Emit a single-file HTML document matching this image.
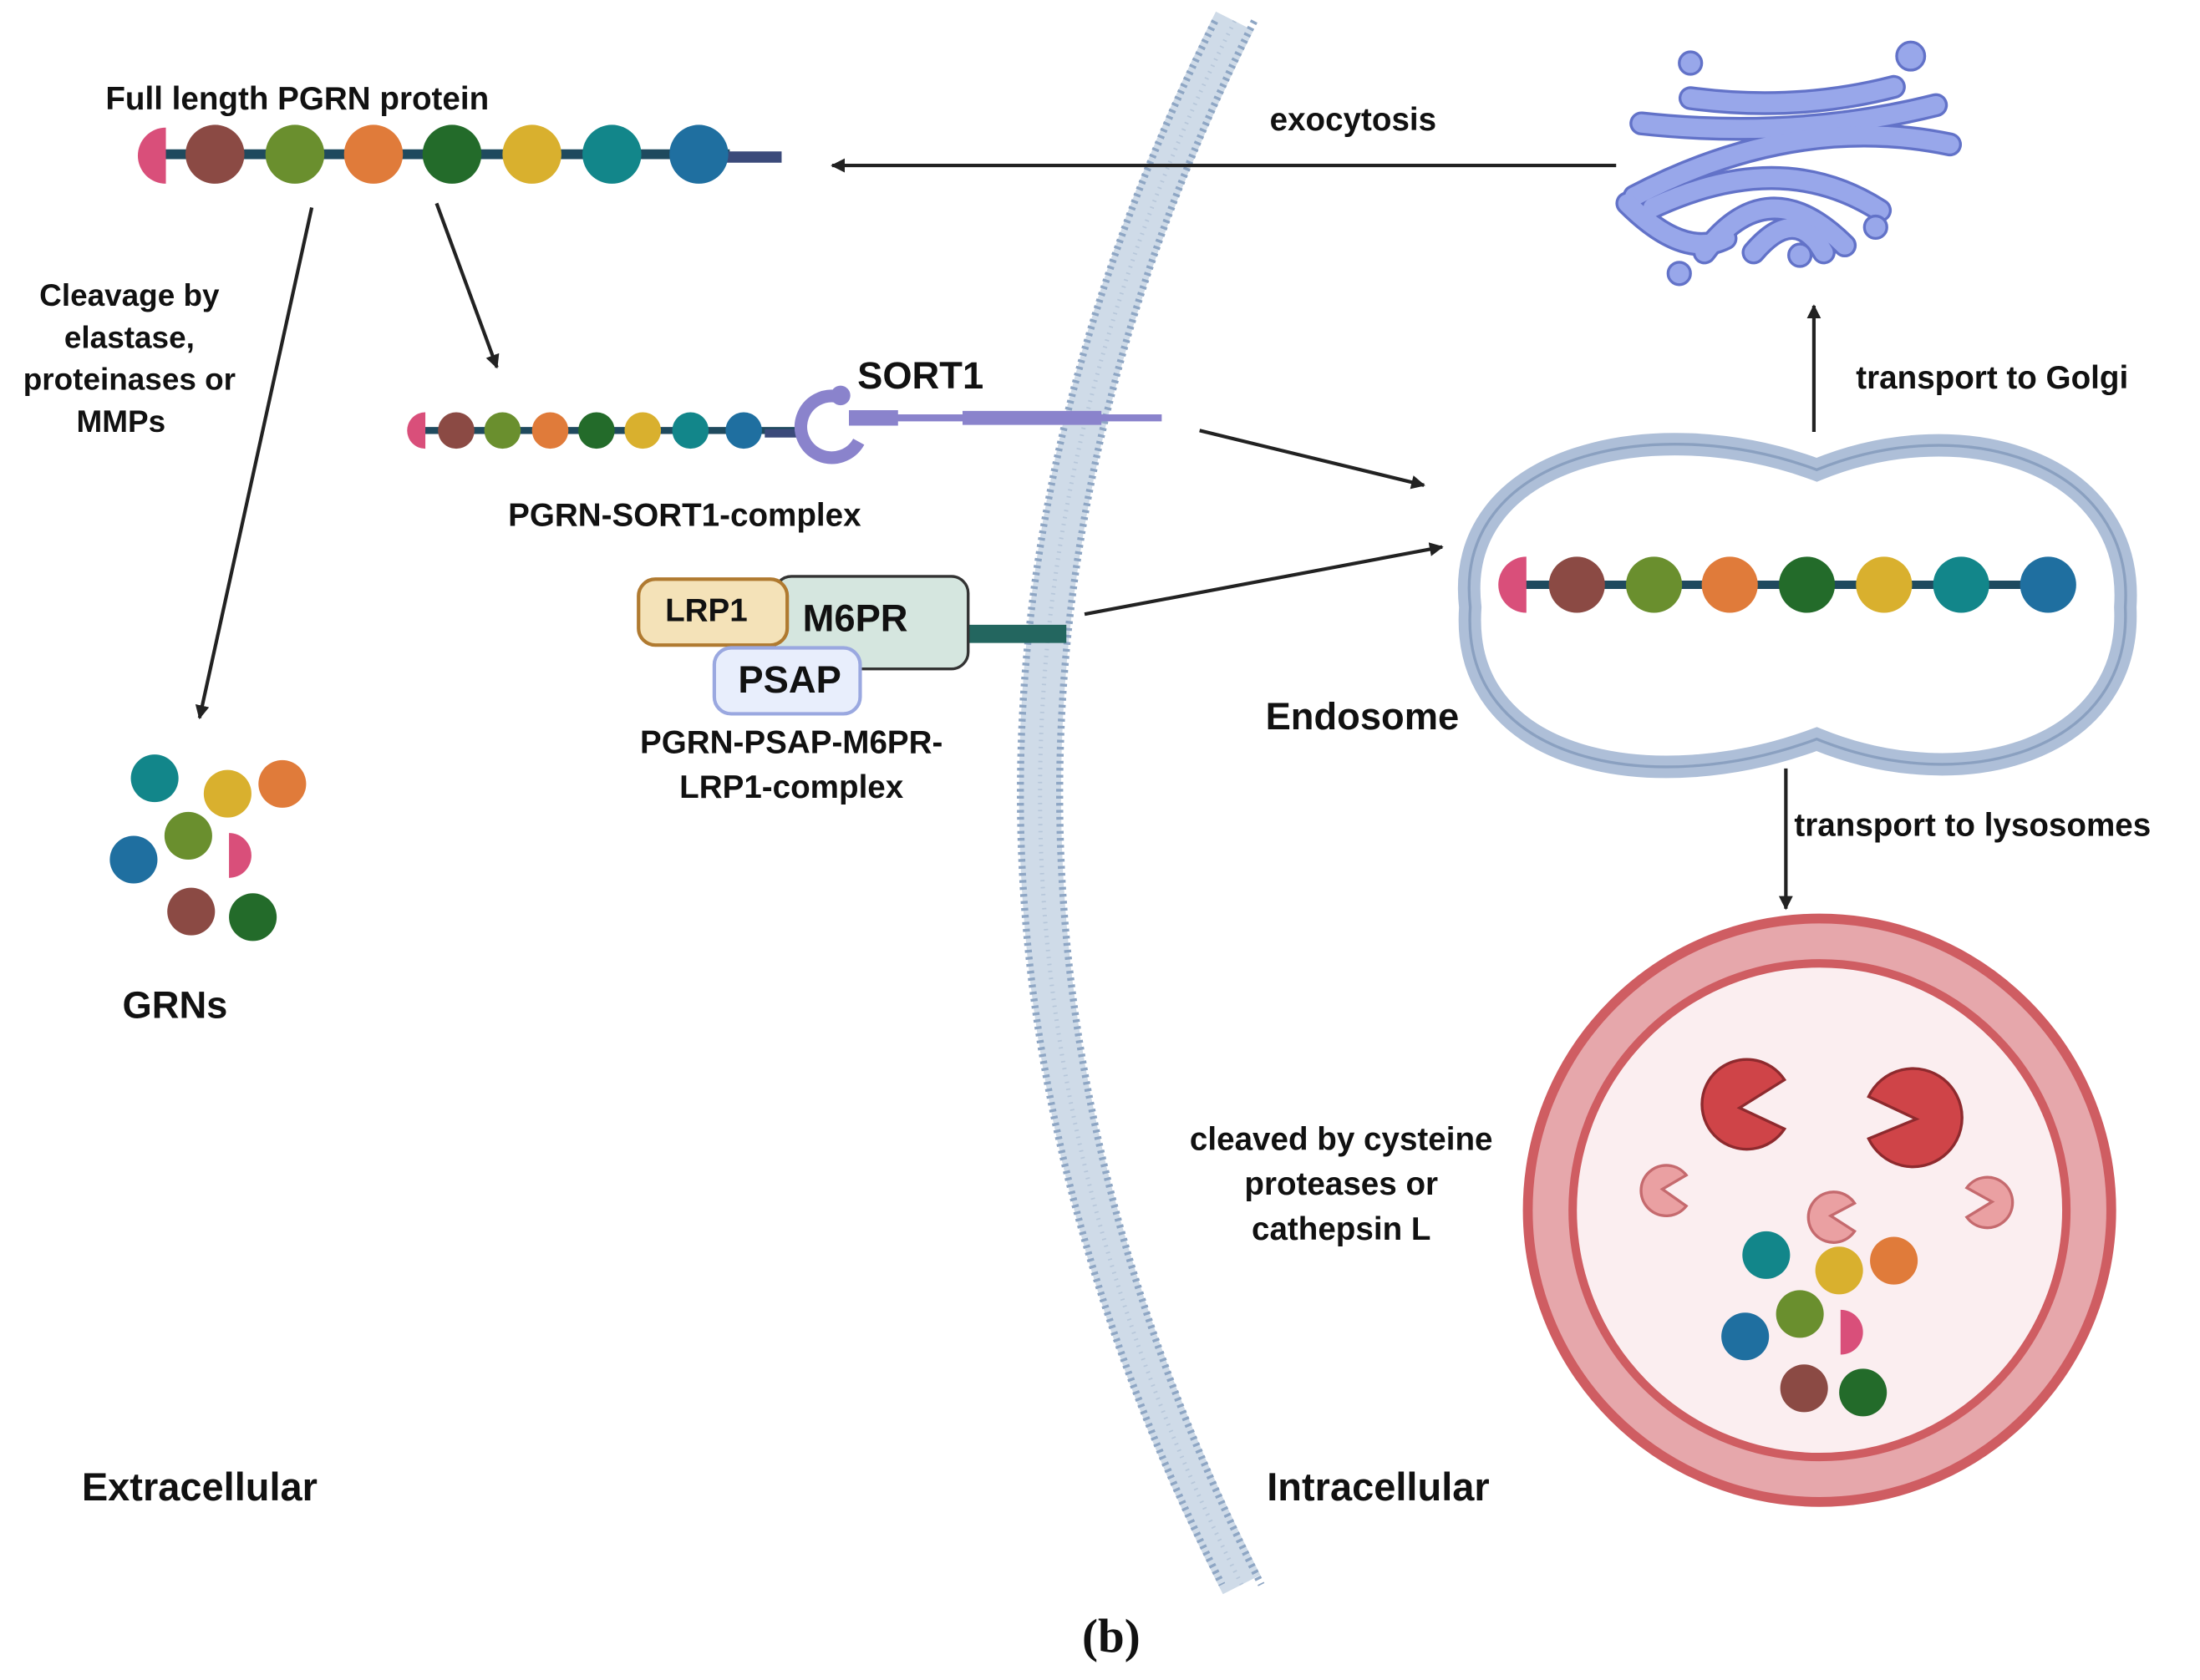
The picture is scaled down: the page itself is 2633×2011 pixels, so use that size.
<!DOCTYPE html>
<html><head><meta charset="utf-8"><style>
html,body{margin:0;padding:0;background:#fff}
svg{display:block}
text{font-family:"Liberation Sans",sans-serif;font-weight:bold;fill:#111}
</style></head><body>
<svg width="2633" height="2011" viewBox="0 0 1568 1198" xmlns="http://www.w3.org/2000/svg">
<defs>
<marker id="ah" markerWidth="10" markerHeight="10" refX="9" refY="5" orient="auto" markerUnits="userSpaceOnUse">
<path d="M0,0 L10,5 L0,10 Z" fill="#222"/></marker>
</defs>
<rect width="1568" height="1198" fill="#fff"/>

<path d="M880 15 Q600 570 885 1130" fill="none" stroke="#cfdbe8" stroke-width="30"/>
<path d="M866 15 Q586 570 871 1130" fill="none" stroke="#8ea6c4" stroke-width="5" stroke-dasharray="2 3"/>
<path d="M894 15 Q614 570 899 1130" fill="none" stroke="#8ea6c4" stroke-width="5" stroke-dasharray="2 3"/>
<path d="M880 15 Q600 570 885 1130" fill="none" stroke="#b7c7da" stroke-width="3" stroke-dasharray="1 4"/>

<line x1="112" y1="110" x2="520" y2="110" stroke="#1f4a5e" stroke-width="7"/>
<line x1="515" y1="112" x2="557" y2="112" stroke="#3b4a7a" stroke-width="8"/>
<path d="M118 91 A20 20 0 0 0 118 131 Z" fill="#d94f7a"/>
<circle cx="153" cy="110" r="21" fill="#8b4a44"/>
<circle cx="210" cy="110" r="21" fill="#6a8f2e"/>
<circle cx="266" cy="110" r="21" fill="#e07b3a"/>
<circle cx="322" cy="110" r="21" fill="#236b2a"/>
<circle cx="379" cy="110" r="21" fill="#d9b02e"/>
<circle cx="436" cy="110" r="21" fill="#12868a"/>
<circle cx="498" cy="110" r="21" fill="#1f6fa0"/>
<text x="75" y="78" font-size="23">Full length PGRN protein</text>

<line x1="222" y1="148" x2="142" y2="512" stroke="#222" stroke-width="2.5" marker-end="url(#ah)"/>
<line x1="311" y1="145" x2="354" y2="262" stroke="#222" stroke-width="2.5" marker-end="url(#ah)"/>
<line x1="1152" y1="118" x2="593" y2="118" stroke="#222" stroke-width="2.5" marker-end="url(#ah)"/>
<line x1="855" y1="307" x2="1015" y2="346" stroke="#222" stroke-width="2.5" marker-end="url(#ah)"/>
<line x1="773" y1="438" x2="1028" y2="390" stroke="#222" stroke-width="2.5" marker-end="url(#ah)"/>
<line x1="1293" y1="308" x2="1293" y2="218" stroke="#222" stroke-width="2.5" marker-end="url(#ah)"/>
<line x1="1273" y1="548" x2="1273" y2="648" stroke="#222" stroke-width="2.5" marker-end="url(#ah)"/>

<text x="905" y="93" font-size="23">exocytosis</text>
<text font-size="22" text-anchor="middle"><tspan x="92" y="218">Cleavage by</tspan><tspan x="92" y="248">elastase,</tspan><tspan x="92" y="278">proteinases or</tspan><tspan x="86" y="308">MMPs</tspan></text>

<circle cx="110" cy="555" r="17" fill="#12868a"/>
<circle cx="162" cy="566" r="17" fill="#d9b02e"/>
<circle cx="201" cy="559" r="17" fill="#e07b3a"/>
<circle cx="134" cy="596" r="17" fill="#6a8f2e"/>
<path d="M163 594 A16 16 0 0 1 163 626 Z" fill="#d94f7a"/>
<circle cx="95" cy="613" r="17" fill="#1f6fa0"/>
<circle cx="136" cy="650" r="17" fill="#8b4a44"/>
<circle cx="180" cy="654" r="17" fill="#236b2a"/>
<text x="87" y="726" font-size="27">GRNs</text>

<line x1="300" y1="307" x2="570" y2="307" stroke="#1f4a5e" stroke-width="5"/>
<line x1="545" y1="309" x2="575" y2="309" stroke="#3b4a7a" stroke-width="6"/>
<path d="M303 294 A13 13 0 0 0 303 320 Z" fill="#d94f7a"/>
<circle cx="325" cy="307" r="13" fill="#8b4a44"/>
<circle cx="358" cy="307" r="13" fill="#6a8f2e"/>
<circle cx="392" cy="307" r="13" fill="#e07b3a"/>
<circle cx="425" cy="307" r="13" fill="#236b2a"/>
<circle cx="458" cy="307" r="13" fill="#d9b02e"/>
<circle cx="492" cy="307" r="13" fill="#12868a"/>
<circle cx="530" cy="307" r="13" fill="#1f6fa0"/>
<path d="M598 283 A22 22 0 1 0 612 315" fill="none" stroke="#8a83cc" stroke-width="9"/>
<circle cx="599" cy="282" r="7" fill="#8a83cc"/>
<line x1="605" y1="298" x2="828" y2="298" stroke="#8a83cc" stroke-width="5"/>
<line x1="605" y1="298" x2="640" y2="298" stroke="#8a83cc" stroke-width="11"/>
<line x1="686" y1="298" x2="785" y2="298" stroke="#8a83cc" stroke-width="10"/>
<text x="611" y="277" font-size="27">SORT1</text>
<text x="362" y="375" font-size="23">PGRN-SORT1-complex</text>

<line x1="688" y1="452" x2="760" y2="452" stroke="#23665f" stroke-width="13"/>
<rect x="552" y="411" width="138" height="66" rx="12" fill="#d5e6df" stroke="#333" stroke-width="2"/>
<text x="572" y="450" font-size="27">M6PR</text>
<rect x="455" y="413" width="106" height="47" rx="12" fill="#f4e2b8" stroke="#b07a30" stroke-width="2.5"/>
<text x="474" y="443" font-size="23">LRP1</text>
<rect x="509" y="462" width="104" height="47" rx="12" fill="#e8eefc" stroke="#9aa8e0" stroke-width="2.5"/>
<text x="526" y="494" font-size="27">PSAP</text>
<text font-size="23" text-anchor="middle"><tspan x="564" y="537">PGRN-PSAP-M6PR-</tspan><tspan x="564" y="569">LRP1-complex</tspan></text>

<path d="M1048 433 C1035 325 1180 292 1295 335 C1400 292 1522 330 1515 433 C1520 535 1400 570 1295 527 C1180 570 1040 545 1048 433 Z" fill="#fff" stroke="#aebfd8" stroke-width="16"/>
<path d="M1048 433 C1035 325 1180 292 1295 335 C1400 292 1522 330 1515 433 C1520 535 1400 570 1295 527 C1180 570 1040 545 1048 433 Z" fill="none" stroke="#8aa0c0" stroke-width="2"/>
<line x1="1078" y1="417" x2="1460" y2="417" stroke="#1f4a5e" stroke-width="6"/>
<path d="M1088 397 A20 20 0 0 0 1088 437 Z" fill="#d94f7a"/>
<circle cx="1124" cy="417" r="20" fill="#8b4a44"/>
<circle cx="1179" cy="417" r="20" fill="#6a8f2e"/>
<circle cx="1233" cy="417" r="20" fill="#e07b3a"/>
<circle cx="1288" cy="417" r="20" fill="#236b2a"/>
<circle cx="1343" cy="417" r="20" fill="#d9b02e"/>
<circle cx="1398" cy="417" r="20" fill="#12868a"/>
<circle cx="1460" cy="417" r="20" fill="#1f6fa0"/>
<text x="902" y="520" font-size="27">Endosome</text>
<text x="1323" y="277" font-size="23">transport to Golgi</text>
<text x="1279" y="596" font-size="23">transport to lysosomes</text>

<g fill="none" stroke-linecap="round">
<g stroke="#6272c8" stroke-width="17">
<path d="M1205 70 Q1280 80 1350 62"/>
<path d="M1170 88 Q1280 100 1380 75"/>
<path d="M1165 140 Q1280 80 1390 103"/>
<path d="M1160 145 Q1200 185 1230 170"/>
<path d="M1178 148 Q1270 105 1340 150"/>
<path d="M1215 180 Q1260 120 1315 175"/>
<path d="M1250 180 Q1280 145 1300 180"/>
</g>
<g stroke="#98a7ea" stroke-width="13">
<path d="M1205 70 Q1280 80 1350 62"/>
<path d="M1170 88 Q1280 100 1380 75"/>
<path d="M1165 140 Q1280 80 1390 103"/>
<path d="M1160 145 Q1200 185 1230 170"/>
<path d="M1178 148 Q1270 105 1340 150"/>
<path d="M1215 180 Q1260 120 1315 175"/>
<path d="M1250 180 Q1280 145 1300 180"/>
</g>
</g>
<g fill="#98a7ea" stroke="#6272c8" stroke-width="2">
<circle cx="1205" cy="45" r="8"/><circle cx="1362" cy="40" r="10"/>
<circle cx="1197" cy="195" r="8"/><circle cx="1283" cy="182" r="8"/><circle cx="1337" cy="162" r="8"/>
</g>

<circle cx="1297" cy="863" r="208" fill="#e6a7ab" stroke="#cf5d62" stroke-width="7"/>
<circle cx="1297" cy="863" r="176" fill="#fbeef0" stroke="#cf5d62" stroke-width="6"/>
<g fill="#cf4448" stroke="#8e2a2e" stroke-width="2">
<path d="M1240 790 L1272 770 A32 32 0 1 0 1272 805 Z"/>
<path d="M1366 798 L1332 782 A35 35 0 1 1 1332 812 Z"/>
</g>
<g fill="#eaa0a2" stroke="#c56a6e" stroke-width="2">
<path d="M1185 848 L1202 838 A18 18 0 1 0 1202 860 Z"/>
<path d="M1305 867 L1322 858 A18 18 0 1 0 1322 878 Z"/>
<path d="M1420 857 L1402 847 A18 18 0 1 1 1402 868 Z"/>
</g>
<circle cx="1259" cy="895" r="17" fill="#12868a"/>
<circle cx="1311" cy="906" r="17" fill="#d9b02e"/>
<circle cx="1350" cy="899" r="17" fill="#e07b3a"/>
<circle cx="1283" cy="937" r="17" fill="#6a8f2e"/>
<path d="M1312 934 A16 16 0 0 1 1312 966 Z" fill="#d94f7a"/>
<circle cx="1244" cy="953" r="17" fill="#1f6fa0"/>
<circle cx="1286" cy="990" r="17" fill="#8b4a44"/>
<circle cx="1328" cy="993" r="17" fill="#236b2a"/>
<text font-size="23" text-anchor="middle"><tspan x="956" y="820">cleaved by cysteine</tspan><tspan x="956" y="852">proteases or</tspan><tspan x="956" y="884">cathepsin L</tspan></text>

<text x="58" y="1070" font-size="28">Extracellular</text>
<text x="903" y="1070" font-size="28">Intracellular</text>
<text x="792" y="1178" font-size="34" text-anchor="middle" style="font-family:'Liberation Serif',serif">(b)</text>
</svg>
</body></html>
